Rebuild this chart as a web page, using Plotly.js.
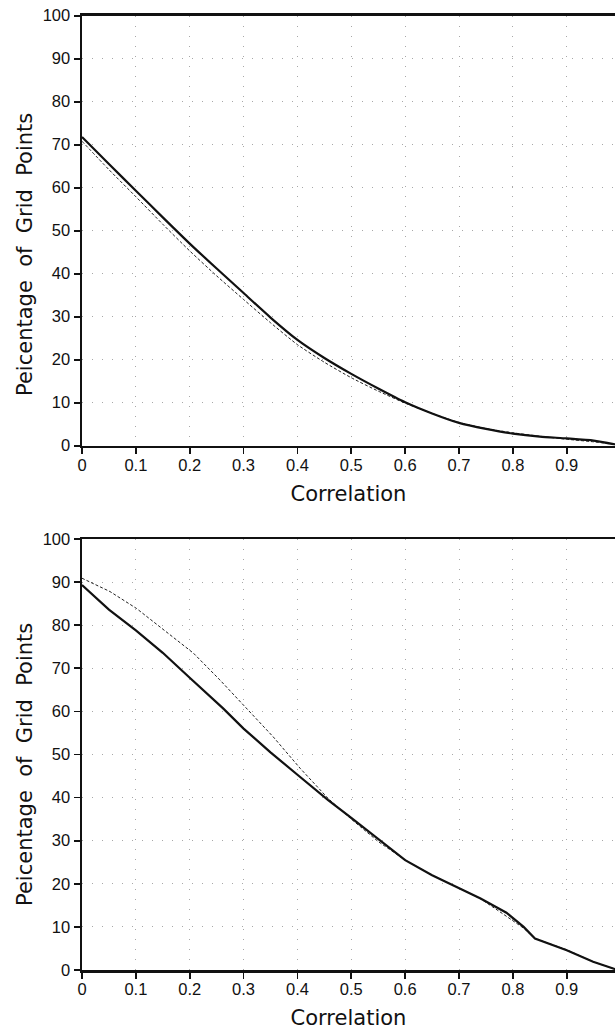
<!DOCTYPE html>
<html>
<head>
<meta charset="utf-8">
<script src="https://cdn.plot.ly/plotly-3.0.1.min.js"></script>
<style>html,body{margin:0;padding:0;background:#fff;}#chart{width:615px;height:1030px;}</style>
</head>
<body>
<div id="chart"></div>
<script>
// ---- data ----
const xTickVals = [0, 0.1, 0.2, 0.3, 0.4, 0.5, 0.6, 0.7, 0.8, 0.9];
const xTickText = ["0", "0.1", "0.2", "0.3", "0.4", "0.5", "0.6", "0.7", "0.8", "0.9"];
const yTickVals = [0, 10, 20, 30, 40, 50, 60, 70, 80, 90, 100];
const xTitle = "Correlation";
const yTitle = "Peicentage\u00a0 of\u00a0 Grid\u00a0 Points";

// top panel
const topCorr   = [0, 0.05, 0.1, 0.15, 0.2, 0.25, 0.3, 0.35, 0.4, 0.45, 0.5, 0.55, 0.6, 0.65, 0.7, 0.75, 0.8, 0.85, 0.9, 0.95, 0.99];
const topSolid  = [71.8, 65.5, 59.3, 53.1, 47.0, 41.2, 35.5, 29.8, 24.6, 20.4, 16.7, 13.3, 10.1, 7.5, 5.3, 3.9, 2.8, 2.1, 1.7, 1.2, 0.3];
const topDashed = [70.8, 64.2, 57.9, 51.5, 45.3, 39.5, 34.0, 28.6, 23.5, 19.4, 15.8, 12.7, 9.9, 7.5, 5.4, 4.0, 3.0, 2.2, 1.5, 0.9, 0.3];

// bottom panel
const botSolidX = [0, 0.05, 0.1, 0.15, 0.2, 0.262, 0.3, 0.35, 0.4, 0.457, 0.5, 0.55, 0.6, 0.65, 0.7, 0.74, 0.788, 0.82, 0.841, 0.9, 0.949, 0.99];
const botSolid  = [89.3, 83.6, 78.8, 73.6, 67.8, 60.7, 56.0, 50.5, 45.3, 39.4, 35.3, 30.4, 25.5, 22.0, 19.0, 16.6, 13.3, 10.0, 7.3, 4.6, 1.9, 0.2];
const botDashX  = [0, 0.052, 0.101, 0.157, 0.207, 0.256, 0.306, 0.355, 0.405, 0.457, 0.5, 0.55, 0.6, 0.65, 0.7, 0.739, 0.776, 0.82, 0.841, 0.9, 0.949, 0.99];
const botDashed = [90.9, 87.8, 83.9, 78.5, 73.5, 67.3, 60.7, 54.1, 46.8, 39.8, 35.0, 29.8, 25.5, 22.0, 19.0, 16.6, 13.5, 9.7, 7.3, 4.7, 1.9, 0.2];

// ---- styling ----
const TITLEFONT = "DejaVu Sans, sans-serif";
const TICKFONT = "Liberation Sans, Arial, sans-serif";
const solidLine = {color: "#111", width: 2.2};
const dashLine  = {color: "#222", width: 1, dash: "3px,2px"};

function xAxis(anchor) {
  return {
    anchor: anchor, domain: [0, 1], range: [0, 0.9896],
    tickmode: "array", tickvals: xTickVals, ticktext: xTickText,
    ticks: "outside", ticklen: 6, tickwidth: 1.6, tickcolor: "#111",
    ticklabelstandoff: -3,
    showline: true, linecolor: "#111", linewidth: 2.5, mirror: true,
    showgrid: true, gridcolor: "#a8a8a8", gridwidth: 1, griddash: "1px,9px",
    zeroline: false, tickfont: {family: TICKFONT, size: 16.5, color: "#111"},
    title: {text: xTitle, font: {family: TITLEFONT, size: 21, color: "#111"}, standoff: 14},
    fixedrange: true
  };
}
function yAxis(anchor, domain) {
  return {
    anchor: anchor, domain: domain, range: [0, 100],
    tickmode: "array", tickvals: yTickVals,
    ticks: "outside", ticklen: 6, tickwidth: 1.6, tickcolor: "#111",
    showline: true, linecolor: "#111", linewidth: 2.5,
    showgrid: true, gridcolor: "#a8a8a8", gridwidth: 1, griddash: "1px,9px",
    zeroline: false, tickfont: {family: TICKFONT, size: 16.5, color: "#111"},
    fixedrange: true
  };
}
function yTitleAnn(yPix) {
  return {
    text: yTitle, xref: "paper", yref: "paper", x: 0, xshift: -57,
    y: 1 - yPix / 1030, xanchor: "center", yanchor: "middle",
    textangle: -90, showarrow: false,
    font: {family: TITLEFONT, size: 21, color: "#111"}
  };
}

const data = [
  {x: topCorr, y: topDashed, xaxis: "x", yaxis: "y", mode: "lines", line: Object.assign({shape: "spline", smoothing: 0.6}, dashLine), hoverinfo: "skip"},
  {x: topCorr, y: topSolid,  xaxis: "x", yaxis: "y", mode: "lines", line: Object.assign({shape: "spline", smoothing: 0.6}, solidLine), hoverinfo: "skip"},
  {x: botDashX, y: botDashed, xaxis: "x2", yaxis: "y2", mode: "lines", line: dashLine, hoverinfo: "skip"},
  {x: botSolidX, y: botSolid, xaxis: "x2", yaxis: "y2", mode: "lines", line: solidLine, hoverinfo: "skip"}
];

const layout = {
  width: 615, height: 1030,
  margin: {l: 82, r: 0, t: 0, b: 0},
  paper_bgcolor: "#fff", plot_bgcolor: "#fff",
  showlegend: false,
  xaxis: xAxis("y"),
  yaxis: yAxis("x", [1 - 445.7 / 1030, 1 - 15.7 / 1030]),
  xaxis2: xAxis("y2"),
  yaxis2: yAxis("x2", [1 - 970 / 1030, 1 - 539 / 1030]),
  annotations: [yTitleAnn(255), yTitleAnn(765)]
};

Plotly.newPlot("chart", data, layout, {staticPlot: true, displayModeBar: false});
</script>
</body>
</html>
